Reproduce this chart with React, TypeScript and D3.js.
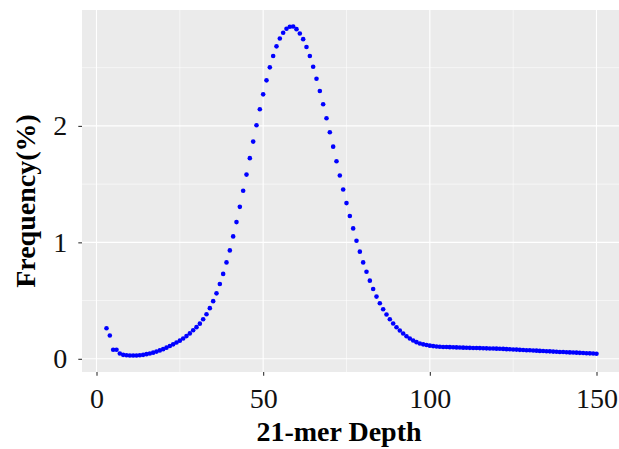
import React, { useRef, useEffect } from 'react';
import * as d3 from 'd3';

// k-mer depth (x) and frequency in percent (y)
const depth = [
  3, 4, 5, 6, 7, 8, 9, 10, 11, 12, 13, 14, 15, 16, 17, 18, 19, 20, 21, 22,
  23, 24, 25, 26, 27, 28, 29, 30, 31, 32, 33, 34, 35, 36, 37, 38, 39, 40, 41, 42,
  43, 44, 45, 46, 47, 48, 49, 50, 51, 52, 53, 54, 55, 56, 57, 58, 59, 60, 61, 62,
  63, 64, 65, 66, 67, 68, 69, 70, 71, 72, 73, 74, 75, 76, 77, 78, 79, 80, 81, 82,
  83, 84, 85, 86, 87, 88, 89, 90, 91, 92, 93, 94, 95, 96, 97, 98, 99, 100, 101, 102,
  103, 104, 105, 106, 107, 108, 109, 110, 111, 112, 113, 114, 115, 116, 117, 118, 119, 120, 121, 122,
  123, 124, 125, 126, 127, 128, 129, 130, 131, 132, 133, 134, 135, 136, 137, 138, 139, 140, 141, 142,
  143, 144, 145, 146, 147, 148, 149, 150,
];

const frequency = [
  0.262, 0.2, 0.078, 0.078, 0.045, 0.034, 0.03, 0.028, 0.028, 0.029,
  0.031, 0.034, 0.04, 0.046, 0.053, 0.062, 0.072, 0.083, 0.096, 0.11,
  0.124, 0.14, 0.156, 0.174, 0.195, 0.218, 0.245, 0.272, 0.302, 0.34,
  0.382, 0.435, 0.495, 0.562, 0.643, 0.729, 0.828, 0.931, 1.051, 1.174,
  1.305, 1.443, 1.582, 1.723, 1.865, 2.006, 2.143, 2.271, 2.391, 2.503,
  2.6, 2.683, 2.751, 2.8, 2.834, 2.851, 2.854, 2.831, 2.794, 2.745,
  2.677, 2.6, 2.508, 2.405, 2.3, 2.186, 2.066, 1.946, 1.822, 1.697,
  1.574, 1.454, 1.337, 1.226, 1.12, 1.014, 0.92, 0.828, 0.748, 0.671,
  0.6, 0.534, 0.477, 0.425, 0.38, 0.34, 0.303, 0.271, 0.243, 0.217,
  0.194, 0.174, 0.157, 0.143, 0.132, 0.124, 0.118, 0.113, 0.109, 0.106,
  0.104, 0.102, 0.101, 0.1, 0.099, 0.098, 0.097, 0.096, 0.095, 0.094,
  0.093, 0.093, 0.092, 0.091, 0.09, 0.089, 0.088, 0.087, 0.086, 0.085,
  0.083, 0.082, 0.08, 0.079, 0.077, 0.076, 0.074, 0.073, 0.071, 0.07,
  0.068, 0.067, 0.065, 0.064, 0.062, 0.061, 0.059, 0.058, 0.056, 0.055,
  0.054, 0.053, 0.051, 0.05, 0.048, 0.047, 0.045, 0.044,
];

const xTicks = [0, 50, 100, 150];
const xMinor = [25, 75, 125];
const yTicks = [0, 1, 2];
const yMinor = [0.5, 1.5, 2.5];

const xTitle = '21-mer Depth';
const yTitle = 'Frequency(%)';

const KmerPlot = ({ width = 619, height = 449 }) => {
  const svgRef = useRef(null);

  useEffect(() => {
    const svg = d3.select(svgRef.current);
    svg.selectAll('*').remove();

    // panel box (ggplot style, right side runs past the image edge)
    const panel = { left: 82, right: 621, top: 10, bottom: 372 };
    const font = '"Liberation Serif", "Times New Roman", serif';

    // ggplot default 5% expansion
    const [x0, x1] = d3.extent(depth);
    const [y0, y1] = d3.extent(frequency);
    const xPad = (x1 - x0) * 0.05;
    const yPad = (y1 - y0) * 0.05;

    const xScale = d3.scaleLinear()
      .domain([x0 - xPad, x1 + xPad])
      .range([panel.left, panel.right]);

    const yScale = d3.scaleLinear()
      .domain([y0 - yPad, y1 + yPad])
      .range([panel.bottom, panel.top]);

    // fondo del panel
    svg.append('rect')
      .attr('x', panel.left)
      .attr('y', panel.top)
      .attr('width', panel.right - panel.left)
      .attr('height', panel.bottom - panel.top)
      .attr('fill', '#EBEBEB');

    const grid = svg.append('g');

    // minor grid
    grid.selectAll('.xminor').data(xMinor).join('line')
      .attr('x1', d => xScale(d)).attr('x2', d => xScale(d))
      .attr('y1', panel.top).attr('y2', panel.bottom)
      .attr('stroke', '#fff').attr('stroke-width', 0.55);
    grid.selectAll('.yminor').data(yMinor).join('line')
      .attr('x1', panel.left).attr('x2', panel.right)
      .attr('y1', d => yScale(d)).attr('y2', d => yScale(d))
      .attr('stroke', '#fff').attr('stroke-width', 0.55);

    // major grid
    grid.selectAll('.xmajor').data(xTicks).join('line')
      .attr('x1', d => xScale(d)).attr('x2', d => xScale(d))
      .attr('y1', panel.top).attr('y2', panel.bottom)
      .attr('stroke', '#fff').attr('stroke-width', 1.1);
    grid.selectAll('.ymajor').data(yTicks).join('line')
      .attr('x1', panel.left).attr('x2', panel.right)
      .attr('y1', d => yScale(d)).attr('y2', d => yScale(d))
      .attr('stroke', '#fff').attr('stroke-width', 1.1);

    // ejes
    const xAxis = d3.axisBottom(xScale).tickValues(xTicks).tickSize(3.7).tickPadding(12)
      .tickFormat(d3.format('d'));
    const yAxis = d3.axisLeft(yScale).tickValues(yTicks).tickSize(3.7).tickPadding(11)
      .tickFormat(d3.format('d'));

    const gx = svg.append('g')
      .attr('transform', `translate(0,${panel.bottom})`)
      .call(xAxis);
    const gy = svg.append('g')
      .attr('transform', `translate(${panel.left},0)`)
      .call(yAxis);

    [gx, gy].forEach(g => {
      g.select('.domain').remove();
      g.selectAll('.tick line').attr('stroke', '#333').attr('stroke-width', 1.1);
      g.selectAll('.tick text')
        .attr('fill', '#111')
        .style('font-family', font)
        .style('font-size', '28px');
    });
    gx.selectAll('.tick text').attr('dy', '0.71em');

    // puntos
    const points = depth.map((d, i) => ({ x: d, y: frequency[i] }));
    svg.append('g')
      .selectAll('circle')
      .data(points)
      .join('circle')
      .attr('cx', d => xScale(d.x))
      .attr('cy', d => yScale(d.y))
      .attr('r', 2.3)
      .attr('fill', '#0000FF');

    // titulos
    svg.append('text')
      .attr('x', 339)
      .attr('y', 441)
      .attr('text-anchor', 'middle')
      .style('font-family', font)
      .style('font-size', '28px')
      .style('font-weight', 'bold')
      .attr('fill', '#000')
      .text(xTitle);

    svg.append('text')
      .attr('transform', `translate(35,201) rotate(-90)`)
      .attr('text-anchor', 'middle')
      .style('font-family', font)
      .style('font-size', '28px')
      .style('font-weight', 'bold')
      .attr('fill', '#000')
      .text(yTitle);
  }, [width, height]);

  return (
    <svg
      ref={svgRef}
      width={width}
      height={height}
      style={{ position: 'fixed', left: 0, top: 0, background: '#fff' }}
    ></svg>
  );
};

export default function App() {
  return <KmerPlot />;
}
